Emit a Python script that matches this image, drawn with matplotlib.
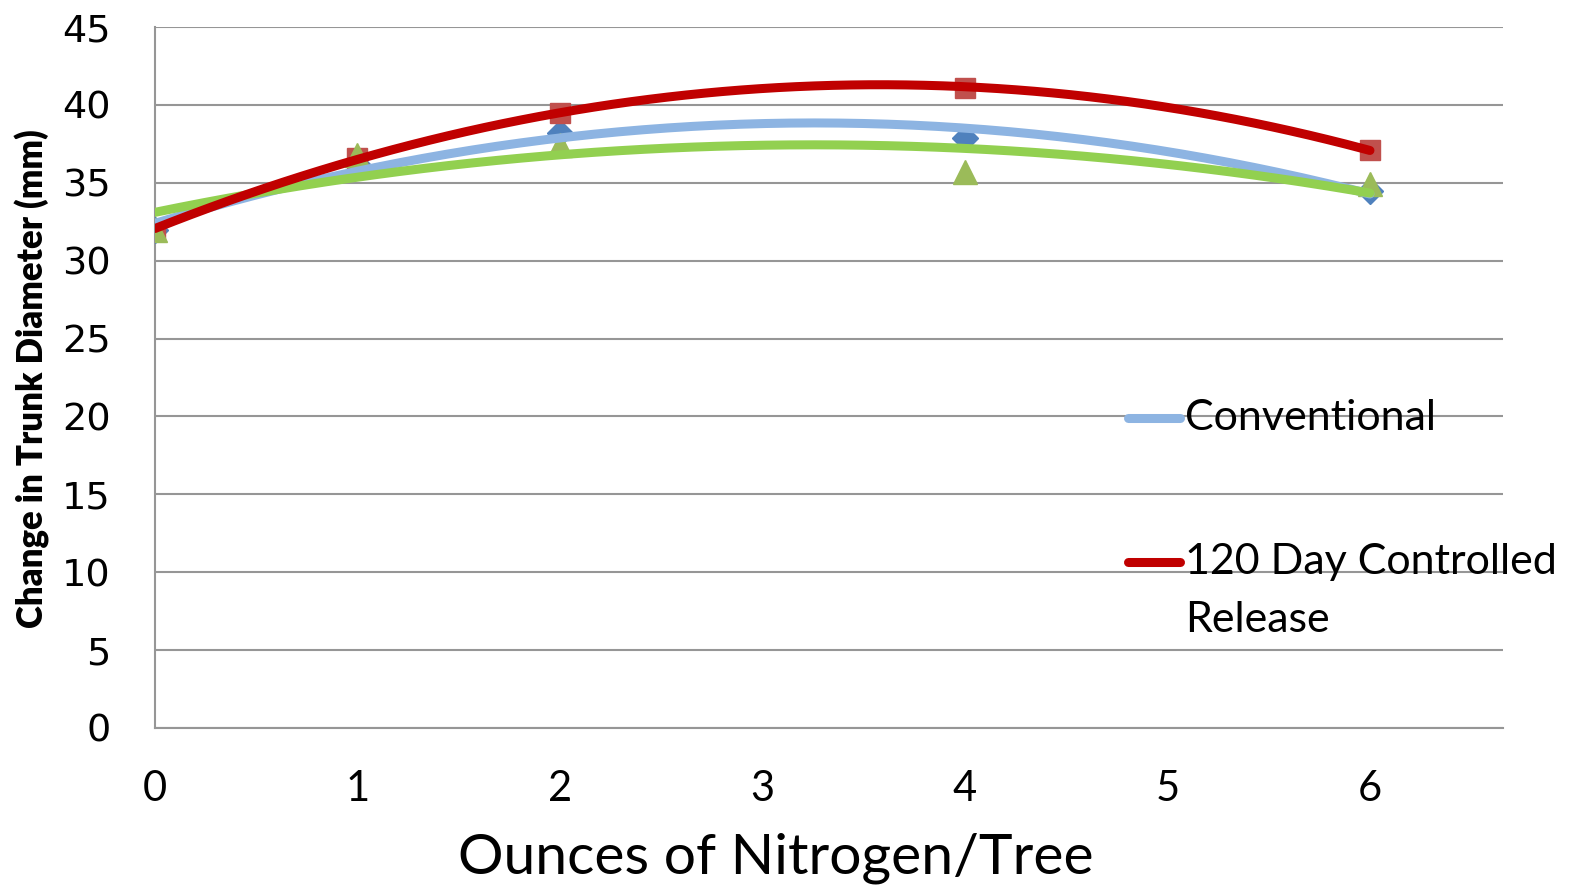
import numpy as np
import matplotlib
matplotlib.use("Agg")
import matplotlib.pyplot as plt
from matplotlib.lines import Line2D

# data
ounces = [0, 1, 2, 4, 6]
conventional = [32.0, 36.2, 38.2, 37.9, 34.5]
controlled = [32.0, 36.6, 39.5, 41.1, 37.1]
third_series = [32.0, 36.8, 37.4, 35.7, 34.9]
x_ticks = [0, 1, 2, 3, 4, 5, 6]
y_ticks = [0, 5, 10, 15, 20, 25, 30, 35, 40, 45]

W, H = 1571, 892
fig = plt.figure(figsize=(W / 100, H / 100), dpi=100)
ax = fig.add_axes([155 / W, 1 - 728 / H, (1503 - 155) / W, (728 - 27) / H])

grid_c = "#969696"
ax.set_xlim(0, 6.657)
ax.set_ylim(0, 45)
ax.set_yticks(y_ticks)
ax.set_xticks(x_ticks)
ax.yaxis.grid(True, color=grid_c, lw=1.5)
ax.set_axisbelow(True)
for s in ["top", "right"]:
    ax.spines[s].set_visible(False)
for s in ["left", "bottom"]:
    ax.spines[s].set_color(grid_c)
    ax.spines[s].set_linewidth(1.5)
ax.tick_params(length=0)
ax.tick_params(axis="y", pad=32)
ax.tick_params(axis="x", pad=30)
for lab in ax.get_yticklabels():
    lab.set_fontfamily("DejaVu Sans")
    lab.set_fontsize(27.5)
for lab in ax.get_xticklabels():
    lab.set_fontfamily("Lato")
    lab.set_fontsize(30)

# markers
ax.plot(ounces, conventional, ls="none", marker="D", ms=13, color="#4F81BD", zorder=3)
ax.plot(ounces, controlled, ls="none", marker="s", ms=15, color="#C0504D", zorder=3)
ax.plot(ounces, third_series, ls="none", marker="^", ms=17, color="#9BBB59", zorder=3)

# 2nd order polynomial trendlines
xs = np.linspace(0, 6, 200)
for ys, c, z in [(conventional, "#8DB4E2", 4), (third_series, "#92D050", 5), (controlled, "#C00000", 6)]:
    p = np.polyfit(ounces, ys, 2)
    ax.plot(xs, np.polyval(p, xs), color=c, lw=6.5, solid_capstyle="round", zorder=z)

# axis titles
fig.text(776 / W, 1 - 858 / H, "Ounces of Nitrogen/Tree", fontfamily="Lato", fontsize=41,
         ha="center", va="center")
fig.text(32 / W, 1 - 379 / H, "Change in Trunk Diameter (mm)", fontfamily="Lato",
         fontweight="heavy", fontsize=25, rotation=90, ha="center", va="center")

# legend drawn by hand (third series has no entry)
fig.add_artist(Line2D([1128 / W, 1180 / W], [1 - 418 / H] * 2, color="#8DB4E2",
                      lw=6.5, solid_capstyle="round"))
fig.add_artist(Line2D([1128 / W, 1180 / W], [1 - 562 / H] * 2, color="#C00000",
                      lw=6.5, solid_capstyle="round"))
fig.text(1185 / W, 1 - 418 / H, "Conventional", fontfamily="Lato", fontsize=31, va="center")
fig.text(1185 / W, 1 - 562 / H, "120 Day Controlled", fontfamily="Lato", fontsize=31, va="center")
fig.text(1185 / W, 1 - 620 / H, "Release", fontfamily="Lato", fontsize=31, va="center")

fig.savefig("out.png", dpi=100)
